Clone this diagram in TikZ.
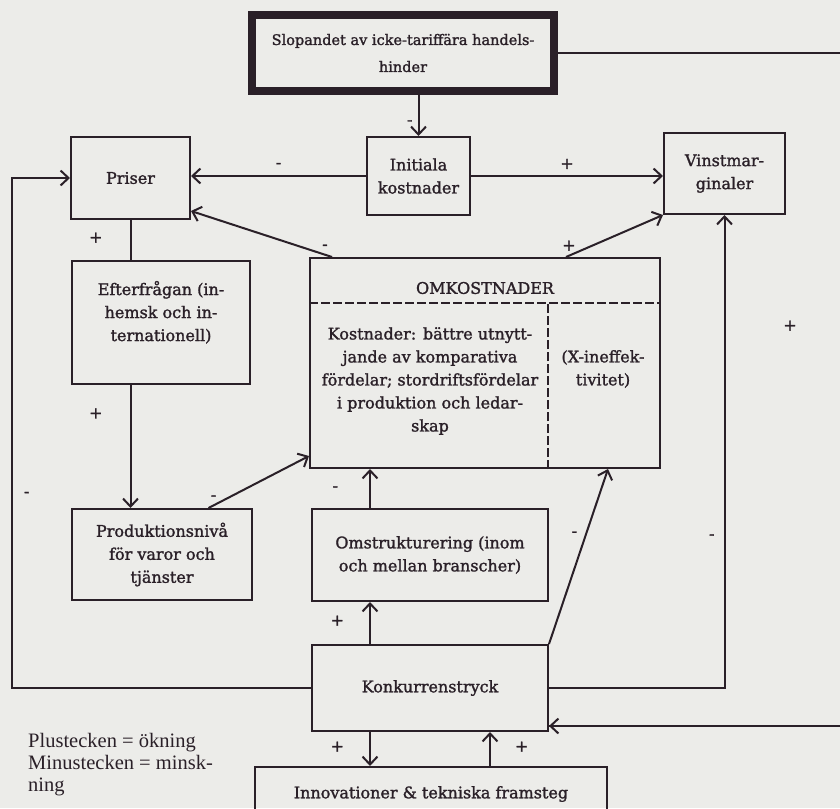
\documentclass[tikz,border=0pt]{standalone}
\usepackage{fontspec}
\newfontfamily\legendfont{Liberation Serif}
\newfontfamily\boxfont[FakeBold=1.5]{DejaVu Serif}
\usetikzlibrary{arrows.meta,positioning}

\definecolor{ink}{RGB}{42,32,40}
\definecolor{paper}{RGB}{236,236,233}

\begin{document}
\begin{tikzpicture}[x=1pt, y=-1pt,
	box/.style={draw=ink, line width=2pt, align=center, text=ink, font=\boxfont\fontsize{16}{23}\selectfont},
	txt/.style={align=center, text=ink, font=\boxfont\fontsize{16}{23}\selectfont},
	arr/.style={draw=ink, line width=2pt, -{Straight Barb[length=8pt, width=15pt]}},
	con/.style={draw=ink, line width=2pt},
	sep/.style={draw=ink, line width=1.6pt, dash pattern=on 9pt off 3pt},
	sgn/.style={text=ink, font=\boxfont\fontsize{16}{16}\selectfont, inner sep=1pt, text height=1.5ex, text depth=.25ex}]

	\fill[paper] (0,0) rectangle (840,808);
	\useasboundingbox (0,0) rectangle (840,808);

	\node[box, line width=8pt, minimum width=302pt, minimum height=76pt, font=\boxfont\fontsize{14.5}{27}\selectfont] (slop) at (403,53) {Slopandet av icke-tariffära handels-\\hinder};
	\node[box, minimum width=103pt, minimum height=78pt] (init) at (418.5,176) {Initiala\\kostnader};
	\node[box, minimum width=119pt, minimum height=82pt] (priser) at (130.5,178) {Priser};
	\node[box, minimum width=121pt, minimum height=81pt] (vinst) at (724.5,173.5) {Vinstmar-\\ginaler};
	\node[box, minimum width=178pt, minimum height=123pt] (efter) at (161,322.5) {Efterfrågan (in-\\hemsk och in-\\ternationell)\\\mbox{}};
	\node[box, minimum width=350pt, minimum height=210pt] (omk) at (485,363) {};
	\node[txt] (omkhead) at (485,288) {OMKOSTNADER};
	\node[txt] (omkbody) at (430,381) {Kostnader: bättre utnytt-\\jande av komparativa\\fördelar; stordriftsfördelar\\i produktion och ledar-\\skap};
	\node[txt] (omkx) at (603,369) {(X-ineffek-\\tivitet)};
	\node[box, minimum width=180pt, minimum height=91pt] (prod) at (162,554.5) {Produktionsnivå\\för varor och\\tjänster};
	\node[box, minimum width=236pt, minimum height=92pt] (omstr) at (430,555) {Omstrukturering (inom\\och mellan branscher)};
	\node[box, minimum width=236pt, minimum height=86pt] (konk) at (430,688) {Konkurrenstryck};
	\node[box, minimum width=352pt, minimum height=54pt] (innov) at (431,794) {Innovationer \& tekniska framsteg};
	\node[anchor=north west, inner sep=0pt, align=left, text=ink, font=\legendfont\fontsize{20.5}{22}\selectfont] (legend) at (28,733) {Plustecken = ökning\\Minustecken = minsk-\\ning};
	\node[sgn] (plusoff) at (790,328) {+};

	\draw[sep] ([yshift=-46pt]omk.north west) -- ([yshift=-46pt]omk.north east);
	\draw[sep] ([xshift=-113pt]omk.south east) -- ([xshift=-113pt, yshift=-46pt]omk.north east);

	\draw[arr] (slop.south -| init.north) -- node[sgn, left=4pt, pos=0.67] {-} (init.north);
	\draw[con] (slop.east) -- ++(330,0) |- ([yshift=6pt]konk.south east);
	\draw[arr] ([xshift=330pt]slop.east |- konk.south east) ++(0,-6) -- ([yshift=6pt]konk.south east);
	\draw[arr] (init.west) -- node[sgn, above=5pt] {-} (init.west -| priser.east);
	\draw[arr] (init.east) -- node[sgn, above=4pt] {+} (init.east -| vinst.west);
	\draw[arr] ([xshift=23pt]omk.north west) -- node[sgn, pos=0.05, above=2pt] {-} ([yshift=9pt]priser.south east);
	\draw[arr] ([xshift=257pt]omk.north west) -- node[sgn, pos=0.03, above=2pt] {+} (vinst.south west);
	\draw[con] (priser.south) -- node[sgn, left=26pt] {+} (priser.south |- efter.north);
	\draw[arr] (priser.south |- efter.south) -- node[sgn, left=26pt, pos=0.25] {+} (priser.south |- prod.north);
	\draw[arr] (konk.west) -- ++(-299,0) |- node[sgn, pos=0.19, right=10pt] {-} (priser.west);
	\draw[arr] (prod.45) -- node[sgn, pos=0.05, above=2pt] {-} ([yshift=13pt]omk.south west);
	\draw[arr] ([xshift=-60pt]omstr.north) -- node[sgn, left=30pt] {-} ([xshift=-60pt]omstr.north |- omk.south);
	\draw[arr] ([xshift=-60pt]konk.north) -- node[sgn, left=24pt] {+} ([xshift=-60pt]konk.north |- omstr.south);
	\draw[arr] (konk.north east) -- node[sgn, pos=0.63, left=7pt] {-} ([xshift=-53pt]omk.south east);
	\draw[arr] (konk.east) -| node[sgn, pos=0.66, left=8pt] {-} (vinst.south);
	\draw[arr] ([xshift=-60pt]konk.south) -- node[sgn, left=24pt] {+} ([xshift=-60pt]konk.south |- innov.north);
	\draw[arr] ([xshift=60pt]konk.south |- innov.north) -- node[sgn, right=23pt] {+} ([xshift=60pt]konk.south);
\end{tikzpicture}
\end{document}
